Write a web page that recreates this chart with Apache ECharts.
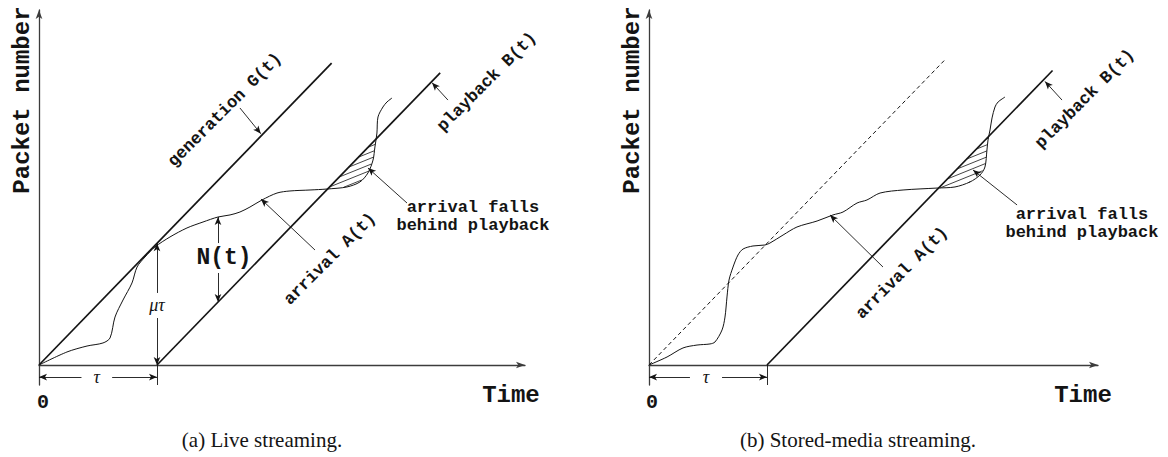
<!DOCTYPE html>
<html>
<head>
<meta charset="utf-8">
<script src="https://cdn.jsdelivr.net/npm/echarts@6/dist/echarts.min.js"></script>
<style>
html,body{margin:0;padding:0;background:#ffffff;}
#chart{width:1168px;height:457px;}
</style>
</head>
<body>
<div id="chart"></div>
<script>
// ---------------- data ----------------
const TAU = 10;   // start-up delay tau (time units)
const MU = 1;     // generation / playback rate mu (packets per time unit)
const captions = ['(a) Live streaming.', '(b) Stored-media streaming.'];
const axisNames = { x: 'Time', y: 'Packet number', origin: '0' };

// arrival curve A(t), live streaming
const liveArrivalT = [0, 2.37, 4.07, 5.42, 6.02, 6.44, 7.12, 7.88, 8.31, 8.98, 9.83, 11.10, 12.54, 13.90, 15.17, 16.19, 17.03, 17.88, 18.90, 20.17, 21.27, 22.97, 24.41, 26.10, 27.20, 27.88, 28.31, 28.47, 28.64, 28.73, 29.15, 29.49, 29.92];
const liveArrivalN = [0, 1.07, 1.56, 1.81, 2.22, 3.94, 5.34, 6.74, 8.05, 8.87, 9.70, 10.52, 11.26, 11.75, 12.16, 12.33, 12.57, 12.98, 13.56, 14.13, 14.30, 14.38, 14.46, 14.63, 15.04, 15.78, 16.84, 17.91, 19.06, 20.38, 21.20, 21.61, 21.94];

// arrival curve A(t), stored-media streaming
const storedArrivalT = [0, 1.53, 2.88, 4.07, 5.17, 5.59, 6.19, 6.44, 6.61, 6.78, 7.12, 7.54, 7.97, 8.81, 9.83, 10.25, 11.36, 12.54, 14.24, 15.59, 16.44, 17.63, 18.47, 19.58, 21.53, 24.41, 25.93, 27.20, 28.05, 28.47, 28.64, 28.73, 28.90, 29.07, 29.32, 29.58, 30.17];
const storedArrivalN = [0, 0.66, 1.40, 1.64, 1.73, 1.89, 2.88, 3.94, 5.59, 6.98, 8.05, 9.04, 9.53, 9.78, 9.86, 10.02, 10.68, 11.34, 11.83, 12.33, 12.57, 13.31, 13.56, 14.13, 14.38, 14.54, 14.63, 15.04, 15.61, 16.27, 17.67, 18.49, 19.31, 20.30, 21.20, 21.61, 22.02];

// extent (time) of the drawn generation G(t)=mu*t and playback B(t)=mu*(t-tau) lines
const genEndT = [24.8, 25.1];
const playEndT = [34.0, 34.2];

// ---------------- layout ----------------
const Y_MIN = -1.643, Y_MAX = 29.17;
const PANELS = [
  { left: 39, width: 486, xMax: 41.19 },
  { left: 649, width: 449, xMax: 38.05 }
];
const INK = '#141414';
const MONO = '"Liberation Mono", "DejaVu Sans Mono", monospace';
const SERIF = '"Liberation Serif", "DejaVu Serif", serif';

const arrivals = [
  liveArrivalT.map((t, k) => [t, liveArrivalN[k]]),
  storedArrivalT.map((t, k) => [t, storedArrivalN[k]])
];

function lagRegion(pts) {
  const f = p => p[1] - MU * (p[0] - TAU);
  const poly = [];
  let inside = false;
  for (let k = 1; k < pts.length; k++) {
    if (pts[k][0] <= TAU) continue;
    const f0 = f(pts[k - 1]), f1 = f(pts[k]);
    if (!inside && f0 >= 0 && f1 < 0) {
      const s = f0 / (f0 - f1);
      const t = pts[k - 1][0] + s * (pts[k][0] - pts[k - 1][0]);
      poly.push([t, MU * (t - TAU)]);
      inside = true;
    }
    if (inside && f1 < 0) poly.push(pts[k]);
    if (inside && f0 < 0 && f1 >= 0) {
      const s = f0 / (f0 - f1);
      const t = pts[k - 1][0] + s * (pts[k][0] - pts[k - 1][0]);
      poly.push([t, MU * (t - TAU)]);
      break;
    }
  }
  return poly;
}

function hatchSegments(px, angleDeg, spacing) {
  const th = angleDeg * Math.PI / 180, c = Math.cos(th), s = Math.sin(th);
  const uv = px.map(p => [p[0] * c - p[1] * s, p[0] * s + p[1] * c]);
  let vMin = Infinity, vMax = -Infinity;
  uv.forEach(p => { vMin = Math.min(vMin, p[1]); vMax = Math.max(vMax, p[1]); });
  const segs = [];
  for (let v = Math.ceil(vMin / spacing) * spacing; v <= vMax; v += spacing) {
    const us = [];
    for (let k = 0; k < uv.length; k++) {
      const a = uv[k], b = uv[(k + 1) % uv.length];
      if ((a[1] <= v && b[1] > v) || (b[1] <= v && a[1] > v)) {
        us.push(a[0] + (v - a[1]) / (b[1] - a[1]) * (b[0] - a[0]));
      }
    }
    us.sort((p, q) => p - q);
    for (let k = 0; k + 1 < us.length; k += 2) {
      const u1 = us[k], u2 = us[k + 1];
      segs.push([u1 * c + v * s, -u1 * s + v * c, u2 * c + v * s, -u2 * s + v * c]);
    }
  }
  return segs;
}

function arrow(from, to, both) {
  return [
    { coord: from, symbol: both ? 'arrow' : 'none' },
    { coord: to, symbol: 'arrow' }
  ];
}
function plain(from, to) {
  return [{ coord: from, symbol: 'none' }, { coord: to, symbol: 'none' }];
}

// annotation anchor points (data units) per panel
const ANN = [
  {
    arrows: [
      arrow([17.03, 21.12], [18.8, 19.0]),
      arrow([34.66, 21.77], [33.31, 23.2]),
      arrow([31.19, 13.31], [27.88, 16.19]),
      arrow([23.39, 9.45], [18.81, 13.64]),
      arrow([15.17, 10.02], [15.17, 12.16]),
      arrow([15.17, 7.56], [15.17, 5.17]),
      arrow([10, 5.92], [10, 10]),
      arrow([10, 3.86], [10, 0]),
      arrow([3.6, -0.99], [0, -0.99]),
      arrow([6.2, -0.99], [10, -0.99]),
      plain([10, 0], [10, Y_MIN])
    ],
    texts: [
      { t: 'generation G(t)', at: [15.76, 20.95], rot: 45, font: 'bold 17px ' + MONO },
      { t: 'playback B(t)', at: [37.97, 23.25], rot: 45, font: 'bold 17px ' + MONO },
      { t: 'arrival falls\nbehind playback', at: [36.78, 12.24], rot: 0, font: 'bold 17px ' + MONO, lh: 18 },
      { t: 'arrival A(t)', at: [24.66, 8.71], rot: 45, font: 'bold 17px ' + MONO },
      { t: 'N(t)', at: [15.68, 8.79], rot: 0, font: 'bold 23px ' + MONO },
      { t: '\u03bc\u03c4', at: [10, 4.93], rot: 0, font: 'italic 18px ' + SERIF },
      { t: '\u03c4', at: [4.9, -0.99], rot: 0, font: 'italic 18px ' + SERIF },
      { t: axisNames.y, at: [-1.36, 21.77], rot: 90, font: 'bold 24px ' + MONO },
      { t: axisNames.origin, at: [0.34, -3.04], rot: 0, font: 'bold 20px ' + MONO },
      { t: axisNames.x, at: [40.0, -2.47], rot: 0, font: 'bold 24px ' + MONO },
      { t: captions[0], at: [18.9, -6.16], rot: 0, font: '21px ' + SERIF }
    ]
  },
  {
    arrows: [
      arrow([35.0, 21.77], [33.56, 23.3]),
      arrow([31.19, 13.15], [27.46, 16.02]),
      arrow([19.83, 8.05], [15.34, 12.33]),
      arrow([3.47, -0.99], [0, -0.99]),
      arrow([6.19, -0.99], [10, -0.99]),
      plain([10, 0], [10, Y_MIN])
    ],
    texts: [
      { t: 'playback B(t)', at: [36.95, 21.86], rot: 45, font: 'bold 17px ' + MONO },
      { t: 'arrival falls\nbehind playback', at: [36.69, 11.59], rot: 0, font: 'bold 17px ' + MONO, lh: 18 },
      { t: 'arrival A(t)', at: [21.44, 7.56], rot: 45, font: 'bold 17px ' + MONO },
      { t: '\u03c4', at: [4.83, -0.99], rot: 0, font: 'italic 18px ' + SERIF },
      { t: axisNames.y, at: [-1.44, 21.77], rot: 90, font: 'bold 24px ' + MONO },
      { t: axisNames.origin, at: [0.25, -3.04], rot: 0, font: 'bold 20px ' + MONO },
      { t: axisNames.x, at: [36.78, -2.47], rot: 0, font: 'bold 24px ' + MONO },
      { t: captions[1], at: [17.71, -6.16], rot: 0, font: '21px ' + SERIF }
    ]
  }
];

const chart = echarts.init(document.getElementById('chart'), null, { renderer: 'svg', width: 1168, height: 457 });

const grids = [], xAxes = [], yAxes = [], series = [];
PANELS.forEach((P, i) => {
  grids.push({ left: P.left, top: 10, width: P.width, height: 375 });
  xAxes.push({
    gridIndex: i, type: 'value', min: 0, max: P.xMax,
    axisLine: { show: true, onZero: true, symbol: ['none', 'arrow'], symbolSize: [5, 9], lineStyle: { color: '#3c3c3c', width: 1.3 } },
    axisTick: { show: false }, axisLabel: { show: false }, splitLine: { show: false }
  });
  yAxes.push({
    gridIndex: i, type: 'value', min: Y_MIN, max: Y_MAX,
    axisLine: { show: true, onZero: true, symbol: ['none', 'arrow'], symbolSize: [5, 9], lineStyle: { color: '#3c3c3c', width: 1.3 } },
    axisTick: { show: false }, axisLabel: { show: false }, splitLine: { show: false }
  });
  // generation G(t) = mu * t
  series.push({
    type: 'line', xAxisIndex: i, yAxisIndex: i, symbol: 'none', silent: true,
    data: [[0, 0], [genEndT[i], MU * genEndT[i]]],
    lineStyle: { color: INK, width: i === 0 ? 1.7 : 1, type: i === 0 ? 'solid' : [4, 3] }
  });
  // playback B(t) = mu * (t - tau)
  series.push({
    type: 'line', xAxisIndex: i, yAxisIndex: i, symbol: 'none', silent: true,
    data: [[TAU, 0], [playEndT[i], MU * (playEndT[i] - TAU)]],
    lineStyle: { color: INK, width: 1.7 }
  });
  // arrival A(t)
  series.push({
    type: 'line', xAxisIndex: i, yAxisIndex: i, symbol: 'none', silent: true, smooth: 0.3,
    data: arrivals[i],
    lineStyle: { color: INK, width: 1 },
    markLine: {
      silent: true, symbol: ['none', 'arrow'], symbolSize: [5, 8],
      label: { show: false }, emphasis: { disabled: true },
      lineStyle: { color: INK, width: 0.9, type: 'solid' },
      data: ANN[i].arrows
    }
  });
  // hatched lag region
  const region = lagRegion(arrivals[i]);
  series.push({
    type: 'custom', xAxisIndex: i, yAxisIndex: i, silent: true, clip: false,
    data: [[region[0][0], region[0][1]]],
    renderItem: (params, api) => {
      const px = region.map(p => api.coord(p));
      const segs = hatchSegments(px, 22, 5.6);
      return {
        type: 'group',
        children: segs.map(s => ({
          type: 'line', shape: { x1: s[0], y1: s[1], x2: s[2], y2: s[3] },
          style: { stroke: INK, lineWidth: 0.8 }
        }))
      };
    }
  });
});

chart.setOption({
  animation: false,
  backgroundColor: '#ffffff',
  grid: grids, xAxis: xAxes, yAxis: yAxes, series: series
});

const graphics = [];
ANN.forEach((A, i) => {
  A.texts.forEach(T => {
    const p = chart.convertToPixel({ gridIndex: i }, T.at);
    graphics.push({
      type: 'text', x: p[0], y: p[1], rotation: T.rot * Math.PI / 180, silent: true,
      style: {
        text: T.t, x: 0, y: 0, font: T.font, fill: INK,
        align: 'center', verticalAlign: 'middle', textAlign: 'center', textVerticalAlign: 'middle',
        lineHeight: T.lh || undefined
      }
    });
  });
});
chart.setOption({ graphic: graphics });
</script>
</body>
</html>
